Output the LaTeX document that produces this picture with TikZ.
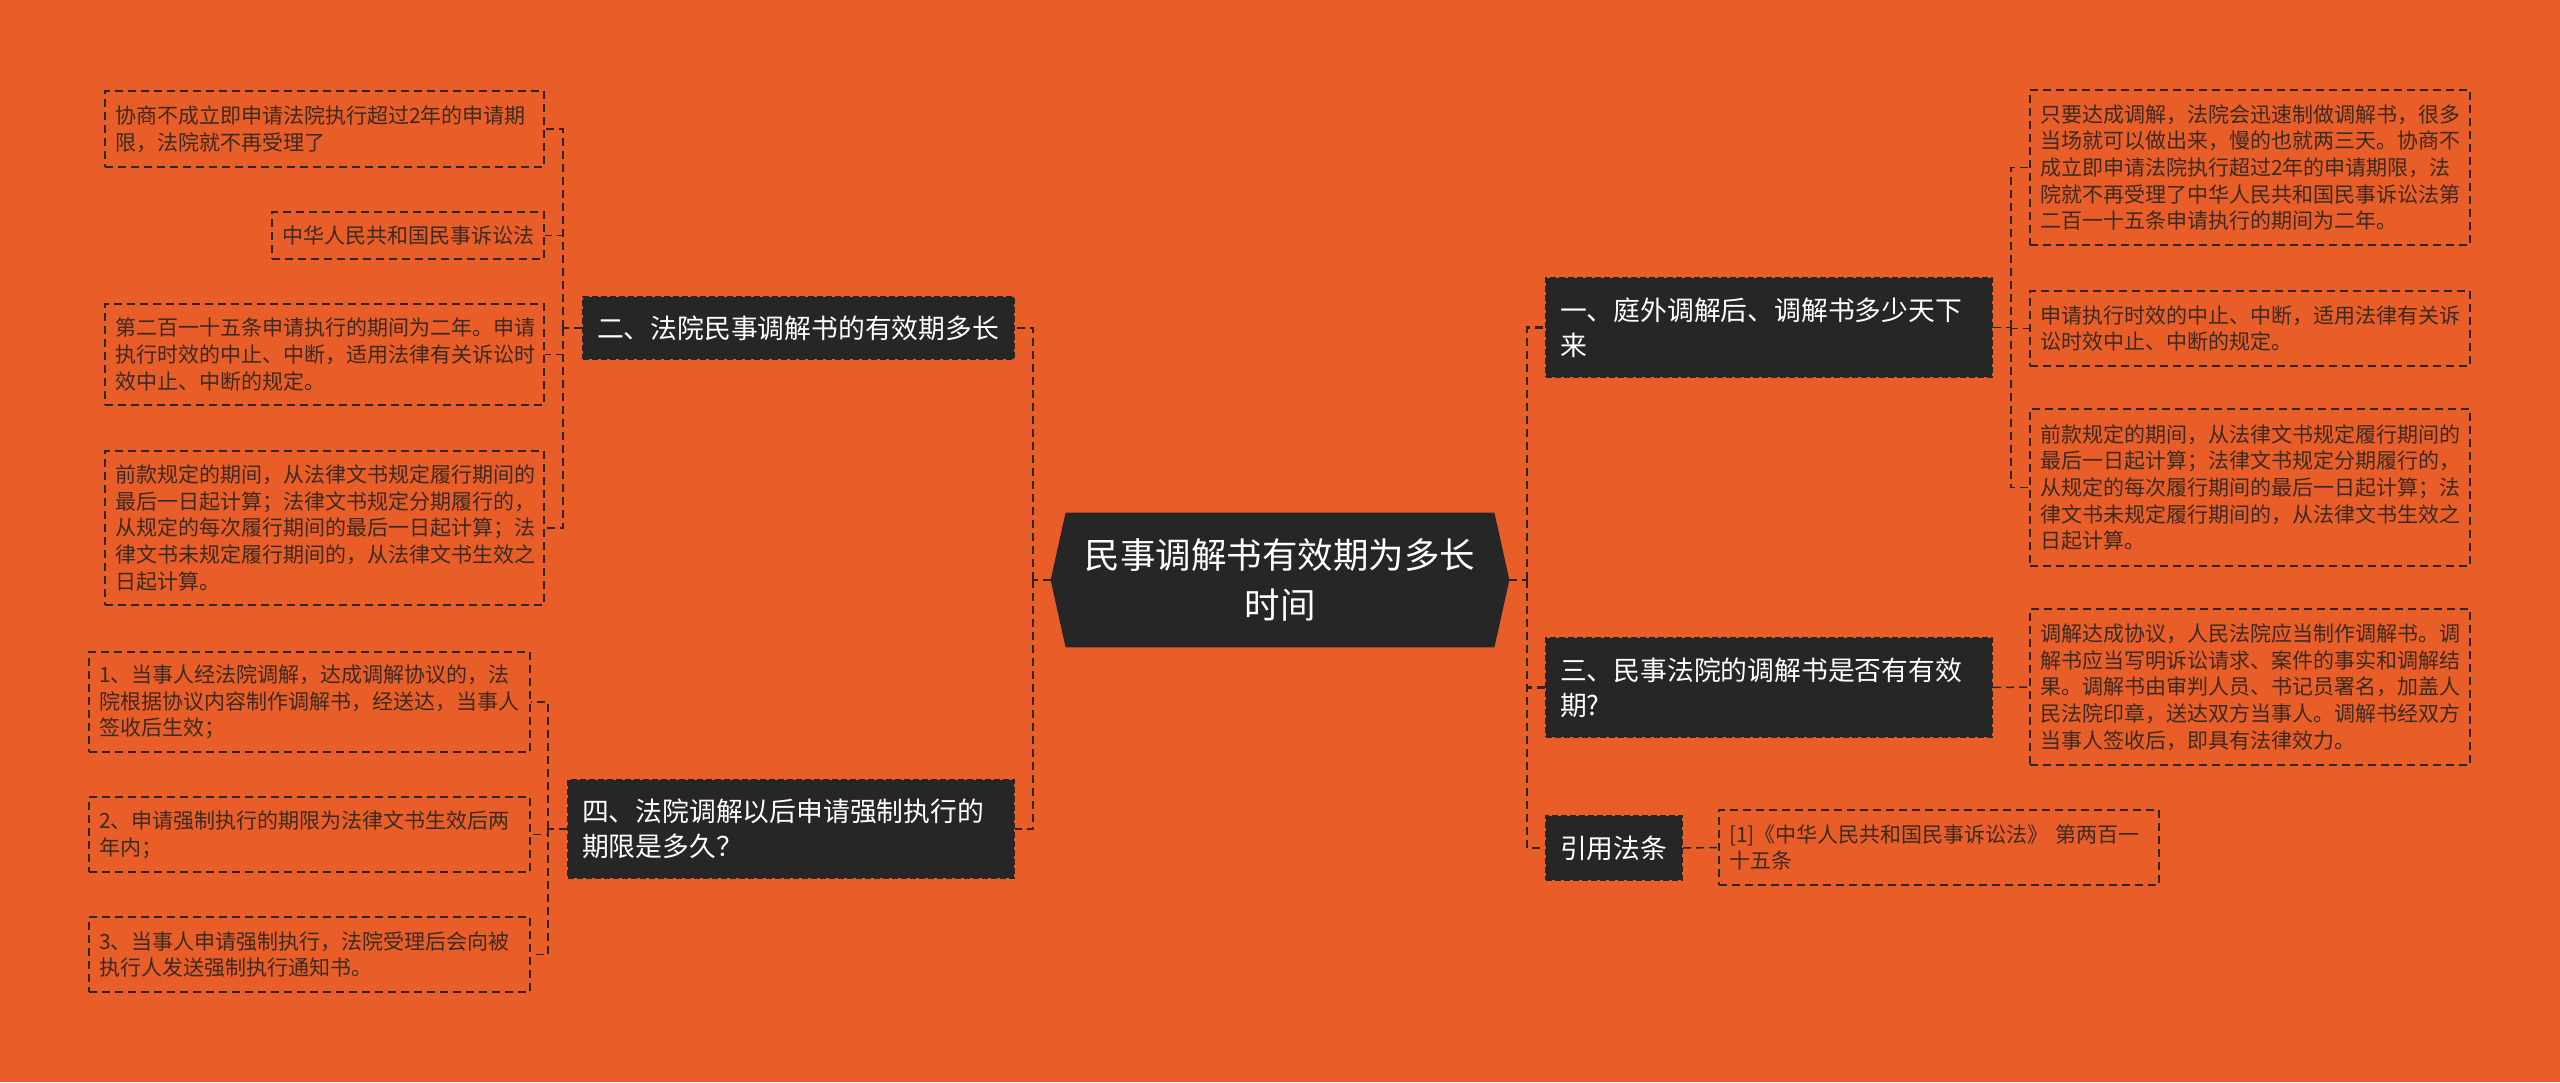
\documentclass[tikz,border=0pt]{standalone}
\usepackage{fontspec}
\setmainfont{Noto Sans CJK SC}
\usetikzlibrary{backgrounds}
\definecolor{bgO}{HTML}{E95E28}
\definecolor{darkB}{HTML}{262626}
\definecolor{lineC}{HTML}{2E2420}
\definecolor{leafT}{HTML}{3A2A22}
\newcommand\leaffont{\fontsize{10.5pt}{13.35pt}\selectfont}
\newcommand\branchfont{\fontsize{13.4pt}{17.5pt}\selectfont}
\newcommand\rootfont{\fontsize{17.75pt}{25pt}\selectfont}
\tikzset{
  leaf/.style={draw=lineC, dash pattern=on 4pt off 2.5pt, line width=0.75pt, text=leafT,
    font=\leaffont, align=left, inner xsep=5pt, inner ysep=0pt, text width=#1},
  branch/.style={fill=darkB, draw=darkB, dash pattern=on 3pt off 1.5pt, line width=1pt,
    text=white, font=\branchfont, align=left, inner xsep=7pt, inner ysep=0pt, text width=#1},
  conn/.style={draw=lineC, dash pattern=on 4pt off 2.5pt, line width=0.75pt},
  mconn/.style={draw=lineC, dash pattern=on 4pt off 2.5pt, line width=1.2pt},
}
\begin{document}
\begin{tikzpicture}[x=0.5pt,y=-0.5pt]
\useasboundingbox (0,0) rectangle (2560,1082);

% root
\node[rectangle, inner sep=0pt, minimum width=229pt, minimum height=67pt, text=white,
  font=\rootfont, align=center] (root) at (1280,580) {民事调解书有效期为多长\\时间};
\begin{pgfonlayer}{background}
\fill[bgO] (0,0) rectangle (2560,1082);
\fill[darkB] (root.west) -- ([xshift=7.5pt]root.north west) -- ([xshift=-7.5pt]root.north east)
  -- (root.east) -- ([xshift=-7.5pt]root.south east) -- ([xshift=7.5pt]root.south west) -- cycle;
\end{pgfonlayer}

% branches left
\node[branch=201.5pt, minimum height=31pt] (n2) at (798.5,328) {二、法院民事调解书的有效期多长};
\node[branch=209pt, minimum height=49pt] (n4) at (791,829) {四、法院调解以后申请强制执行的\\期限是多久？};
% branches right
\node[branch=209pt, minimum height=49.5pt] (n1) at (1769,327.5) {一、庭外调解后、调解书多少天下\\来};
\node[branch=209pt, minimum height=49.5pt] (n3) at (1769,687.5) {三、民事法院的调解书是否有有效\\期?};
\node[branch=54pt, minimum height=32pt] (n5) at (1614,848) {引用法条};

% leaves left
\node[leaf=209.5pt, minimum height=38pt] (L1) at (324.5,129) {协商不成立即申请法院执行超过2年的申请期\\限，法院就不再受理了};
\node[leaf=126pt, minimum height=23.5pt] (L2) at (408,235.5) {中华人民共和国民事诉讼法};
\node[leaf=209.5pt, minimum height=50.5pt] (L3) at (324.5,354.5) {第二百一十五条申请执行的期间为二年。申请\\执行时效的中止、中断，适用法律有关诉讼时\\效中止、中断的规定。};
\node[leaf=209.5pt, minimum height=77pt] (L4) at (324.5,528) {前款规定的期间，从法律文书规定履行期间的\\最后一日起计算；法律文书规定分期履行的，\\从规定的每次履行期间的最后一日起计算；法\\律文书未规定履行期间的，从法律文书生效之\\日起计算。};
\node[leaf=210.5pt, minimum height=50pt] (B1) at (309.5,702) {1、当事人经法院调解，达成调解协议的，法\\院根据协议内容制作调解书，经送达，当事人\\签收后生效；};
\node[leaf=210.5pt, minimum height=37.5pt] (B2) at (309.5,834.5) {2、申请强制执行的期限为法律文书生效后两\\年内；};
\node[leaf=210.5pt, minimum height=37.5pt] (B3) at (309.5,954.5) {3、当事人申请强制执行，法院受理后会向被\\执行人发送强制执行通知书。};

% leaves right
\node[leaf=210pt, minimum height=77.5pt] (RA1) at (2250,167.5) {只要达成调解，法院会迅速制做调解书，很多\\当场就可以做出来，慢的也就两三天。协商不\\成立即申请法院执行超过2年的申请期限，法\\院就不再受理了中华人民共和国民事诉讼法第\\二百一十五条申请执行的期间为二年。};
\node[leaf=210pt, minimum height=37.5pt] (RA2) at (2250,328.5) {申请执行时效的中止、中断，适用法律有关诉\\讼时效中止、中断的规定。};
\node[leaf=210pt, minimum height=78.5pt] (RA3) at (2250,487.5) {前款规定的期间，从法律文书规定履行期间的\\最后一日起计算；法律文书规定分期履行的，\\从规定的每次履行期间的最后一日起计算；法\\律文书未规定履行期间的，从法律文书生效之\\日起计算。};
\node[leaf=210pt, minimum height=78pt] (RC) at (2250,687) {调解达成协议，人民法院应当制作调解书。调\\解书应当写明诉讼请求、案件的事实和调解结\\果。调解书由审判人员、书记员署名，加盖人\\民法院印章，送达双方当事人。调解书经双方\\当事人签收后，即具有法律效力。};
\node[leaf=210pt, minimum height=37.5pt] (RD) at (1939,847.5) {[1]《中华人民共和国民事诉讼法》 第两百一\\十五条};

% main connectors
\coordinate (TL) at (1033,580);
\coordinate (TR) at (1527,580);
\draw[mconn] (root.west) -- (TL);
\draw[mconn] (TL) |- (n2.east);
\draw[mconn] (TL) |- (n4.east);
\draw[mconn] (root.east) -- (TR);
\draw[mconn] (TR) |- (n1.west);
\draw[mconn] (TR) |- (n3.west);
\draw[mconn] (TR) |- (n5.west);

% sub connectors
\coordinate (t2) at (563,328);
\draw[conn] (n2.west) -- (t2);
\draw[conn] (t2) |- (L1.east);
\draw[conn] (t2) |- (L2.east);
\draw[conn] (t2) |- (L3.east);
\draw[conn] (t2) |- (L4.east);

\coordinate (t4) at (548,829);
\draw[conn] (n4.west) -- (t4);
\draw[conn] (t4) |- (B1.east);
\draw[conn] (t4) |- (B2.east);
\draw[conn] (t4) |- (B3.east);

\coordinate (t1) at (2011,327.5);
\draw[conn] (n1.east) -- (t1);
\draw[conn] (t1) |- (RA1.west);
\draw[conn] (t1) |- (RA2.west);
\draw[conn] (t1) |- (RA3.west);

\draw[conn] (n3.east) -- (RC.west);
\draw[conn] (n5.east) -- (RD.west);
\end{tikzpicture}
\end{document}
